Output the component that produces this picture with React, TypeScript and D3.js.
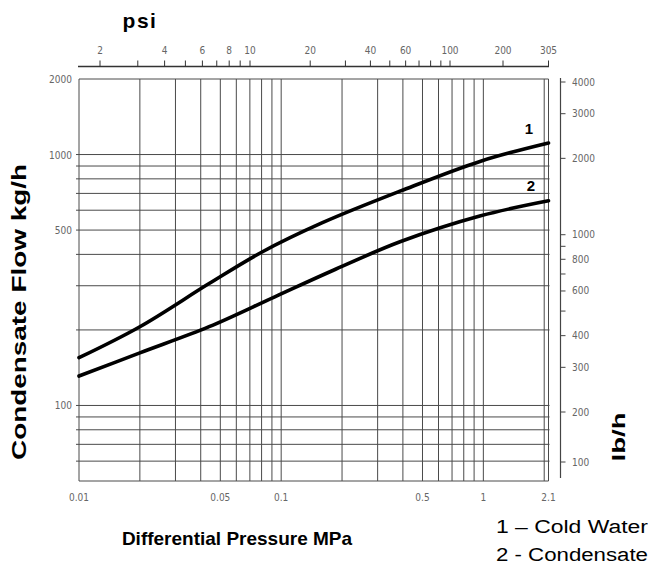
import React from "react";
import * as d3 from "d3";

// ---- data ----
const pressureMPa1 = [0.01, 0.02, 0.044, 0.08, 0.16, 0.39, 0.97, 2.1];
const coldWaterKgH = [155, 206, 306, 408, 535, 716, 941, 1112];
const pressureMPa2 = [0.01, 0.02, 0.044, 0.093, 0.18, 0.39, 0.97, 2.1];
const condensateKgH = [131, 162, 206, 271, 345, 450, 570, 654];

const xGridValues = [0.01, 0.02, 0.03, 0.04, 0.05, 0.06, 0.07, 0.08, 0.09, 0.1, 0.2, 0.3, 0.4, 0.5, 0.6, 0.7, 0.8, 0.9, 1, 2, 2.1];
const xTickLabels = [0.01, 0.05, 0.1, 0.5, 1, 2.1];
const yGridValues = [60, 70, 80, 90, 100, 200, 300, 400, 500, 600, 700, 800, 900, 1000];
const yTickLabels = [2000, 1000, 500, 100];
const psiTicks = [2, 3, 4, 5, 6, 7, 8, 9, 10, 20, 30, 40, 50, 60, 70, 80, 90, 100, 200, 305];
const psiLabels = [2, 4, 6, 8, 10, 20, 40, 60, 100, 200, 305];
const lbTicks = [4000, 3000, 2000, 1000, 900, 800, 700, 600, 500, 400, 300, 200, 100];
const lbLabels = [4000, 3000, 2000, 1000, 800, 600, 400, 300, 200, 100];
const legendItems = ["1 \u2013 Cold Water", "2 - Condensate"];

// ---- layout ----
const W = 665, H = 570;
const L = 79, R = 548.5, T = 79, B = 481;
const x = d3.scaleLog().domain([0.01, 2.1]).range([L, R]);
const y = d3.scaleLog().domain([50, 2000]).range([B, T]);
const psi = d3.scaleLog().domain([2, 10, 100, 200, 305]).range([100, 250, 450, 503, R]);
const lb = d3.scaleLog().domain([100, 200, 4000]).range([462, 412, 82]);

const tickFont = "'Liberation Sans Narrow', 'DejaVu Sans Condensed', sans-serif";
const titleFont = "'Liberation Sans', Arial, sans-serif";
const grid = "#4a4a4a";
const tickColor = "#666";

const fmt = (v: number) => String(v);

export default function App() {
  const line = d3
    .line<[number, number]>()
    .x((d) => x(d[0]))
    .y((d) => y(d[1]))
    .curve(d3.curveCatmullRom.alpha(0.5));
  const c1 = line(pressureMPa1.map((p, i) => [p, coldWaterKgH[i]] as [number, number])) || "";
  const c2 = line(pressureMPa2.map((p, i) => [p, condensateKgH[i]] as [number, number])) || "";
  const topY = 66.5;
  const rX = 560.5;

  return (
    <svg
      width={W}
      height={H}
      style={{ position: "absolute", left: 0, top: 0, background: "#fff" }}
    >
      {/* psi title */}
      <text x={140} y={28} textAnchor="middle" fontFamily={titleFont} fontWeight="bold" fontSize={21} letterSpacing={1.5}>
        psi
      </text>
      {/* top psi axis */}
      <line x1={78} x2={R + 0.5} y1={topY} y2={topY} stroke="#333" strokeWidth={1.3} />
      {psiTicks.map((v) => (
        <line key={"pt" + v} x1={psi(v)} x2={psi(v)} y1={topY} y2={topY - 6} stroke="#333" strokeWidth={1} />
      ))}
      {psiLabels.map((v) => (
        <text key={"pl" + v} x={psi(v)} y={54} textAnchor="middle" fontFamily={tickFont} fontSize={10} fill={tickColor}>
          {fmt(v)}
        </text>
      ))}

      {/* grid */}
      {yGridValues.map((v) => (
        <line key={"hy" + v} x1={L - 3} x2={R + 1} y1={y(v)} y2={y(v)} stroke={grid} strokeWidth={1} />
      ))}
      {xGridValues.map((v) => (
        <line key={"vx" + v} x1={x(v)} x2={x(v)} y1={T} y2={B} stroke={grid} strokeWidth={1} />
      ))}
      <line x1={L} x2={R} y1={T} y2={T} stroke={grid} strokeWidth={1} />
      <line x1={L} x2={R} y1={B} y2={B} stroke={grid} strokeWidth={1} />

      {/* left tick labels */}
      {yTickLabels.map((v) => (
        <text key={"yl" + v} x={L - 7} y={y(v) + 4} textAnchor="end" fontFamily={tickFont} fontSize={10} fill={tickColor}>
          {fmt(v)}
        </text>
      ))}
      {/* bottom tick labels */}
      {xTickLabels.map((v) => (
        <text key={"xl" + v} x={x(v)} y={501} textAnchor="middle" fontFamily={tickFont} fontSize={10} fill={tickColor}>
          {fmt(v)}
        </text>
      ))}

      {/* right lb/h axis */}
      <line x1={rX} x2={rX} y1={T - 1} y2={478} stroke="#444" strokeWidth={1.2} />
      {lbTicks.map((v) => (
        <line key={"rt" + v} x1={rX} x2={rX + 5} y1={lb(v)} y2={lb(v)} stroke="#444" strokeWidth={1} />
      ))}
      {lbLabels.map((v) => (
        <text key={"rl" + v} x={572} y={lb(v) + 3.5} fontFamily={tickFont} fontSize={10} fill={tickColor}>
          {fmt(v)}
        </text>
      ))}

      {/* curves */}
      <path d={c1} fill="none" stroke="#000" strokeWidth={3.6} strokeLinecap="round" />
      <path d={c2} fill="none" stroke="#000" strokeWidth={3.6} strokeLinecap="round" />
      <text x={529} y={134} textAnchor="middle" fontFamily={titleFont} fontWeight="bold" fontSize={15}>1</text>
      <text x={531} y={191} textAnchor="middle" fontFamily={titleFont} fontWeight="bold" fontSize={15}>2</text>

      {/* axis titles */}
      <text
        transform="translate(26,312) rotate(-90)"
        textAnchor="middle"
        fontFamily={titleFont}
        fontWeight="bold"
        fontSize={20}
        textLength={296}
        lengthAdjust="spacingAndGlyphs"
      >
        Condensate Flow kg/h
      </text>
      <text
        transform="translate(625,437) rotate(-90)"
        textAnchor="middle"
        fontFamily={titleFont}
        fontWeight="bold"
        fontSize={19}
        textLength={49}
        lengthAdjust="spacingAndGlyphs"
      >
        lb/h
      </text>
      <text x={237} y={545} textAnchor="middle" fontFamily={titleFont} fontWeight="bold" fontSize={19}>
        Differential Pressure MPa
      </text>

      {/* legend */}
      {legendItems.map((t, i) => (
        <text
          key={t}
          x={496}
          y={533 + i * 28}
          fontFamily={titleFont}
          fontSize={18}
          textLength={152}
          lengthAdjust="spacingAndGlyphs"
        >
          {t}
        </text>
      ))}
    </svg>
  );
}
